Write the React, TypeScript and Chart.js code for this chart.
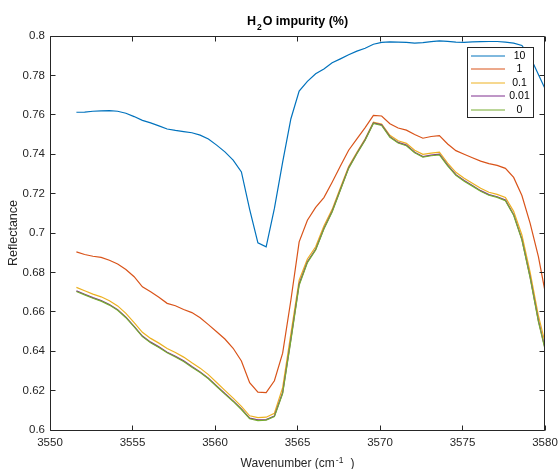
import React, { useEffect, useRef } from "react";
import { Chart, registerables } from "chart.js";

Chart.register(...registerables);

const wavenumbers = [
  3551.6, 3552.1, 3552.6, 3553.1, 3553.6, 3554.1, 3554.6, 3555.1, 3555.6, 3556.1,
  3556.6, 3557.1, 3557.6, 3558.1, 3558.6, 3559.1, 3559.6, 3560.1, 3560.6, 3561.1,
  3561.6, 3562.1, 3562.6, 3563.1, 3563.6, 3564.1, 3564.6, 3565.1, 3565.6, 3566.1,
  3566.6, 3567.1, 3567.6, 3568.1, 3568.6, 3569.1, 3569.6, 3570.1, 3570.6, 3571.1,
  3571.6, 3572.1, 3572.6, 3573.1, 3573.6, 3574.1, 3574.6, 3575.1, 3575.6, 3576.1,
  3576.6, 3577.1, 3577.6, 3578.1, 3578.6, 3579.1, 3579.6, 3580.1,
];

const impurity10 = [
  0.7613, 0.7614, 0.7618, 0.7620, 0.7621, 0.7618, 0.7608, 0.7591, 0.7572, 0.7559,
  0.7544, 0.7528, 0.7521, 0.7515, 0.7509, 0.7497, 0.7477, 0.7446, 0.7412, 0.7370,
  0.7310, 0.7120, 0.6950, 0.6930, 0.7125, 0.7360, 0.7580, 0.7720, 0.7770, 0.7808,
  0.7833, 0.7864, 0.7884, 0.7905, 0.7923, 0.7938, 0.7958, 0.7968, 0.7970, 0.7969,
  0.7968, 0.7964, 0.7966, 0.7971, 0.7975, 0.7973, 0.7969, 0.7968, 0.7970, 0.7971,
  0.7972, 0.7972, 0.7969, 0.7964, 0.7952, 0.7895, 0.7805, 0.7715,
];

const impurity1 = [
  0.6904, 0.6891, 0.6882, 0.6876, 0.6862, 0.6843, 0.6815, 0.6778, 0.6727, 0.6702,
  0.6674, 0.6643, 0.6631, 0.6612, 0.6596, 0.6570, 0.6535, 0.6499, 0.6462, 0.6415,
  0.6350, 0.6240, 0.6192, 0.6190, 0.6250, 0.6390, 0.6660, 0.6955, 0.7065, 0.7130,
  0.7180, 0.7258, 0.7340, 0.7420, 0.7478, 0.7535, 0.7597, 0.7594, 0.7555, 0.7533,
  0.7522, 0.7500, 0.7481, 0.7490, 0.7494, 0.7452, 0.7418, 0.7400, 0.7382, 0.7365,
  0.7352, 0.7343, 0.7328, 0.7282, 0.7190, 0.7049, 0.6880, 0.6660,
];

const impurity01 = [
  0.6724, 0.6707, 0.6690, 0.6676, 0.6656, 0.6630, 0.6592, 0.6545, 0.6496, 0.6465,
  0.6441, 0.6414, 0.6393, 0.6370, 0.6341, 0.6314, 0.6281, 0.6241, 0.6201, 0.6162,
  0.6120, 0.6072, 0.6063, 0.6065, 0.6085, 0.6215, 0.6490, 0.6760, 0.6868, 0.6930,
  0.7035, 0.7120, 0.7230, 0.7338, 0.7410, 0.7478, 0.7562, 0.7553, 0.7496, 0.7468,
  0.7455, 0.7420, 0.7399, 0.7405, 0.7410, 0.7355, 0.7308, 0.7278, 0.7253, 0.7227,
  0.7207, 0.7196, 0.7180, 0.7110, 0.6990, 0.6800, 0.6580, 0.6410,
];

const impurity001 = [
  0.6706, 0.6689, 0.6672, 0.6657, 0.6637, 0.6611, 0.6573, 0.6526, 0.6477, 0.6446,
  0.6422, 0.6395, 0.6374, 0.6351, 0.6322, 0.6295, 0.6263, 0.6224, 0.6185, 0.6148,
  0.6107, 0.6060, 0.6051, 0.6053, 0.6071, 0.6190, 0.6462, 0.6741, 0.6854, 0.6917,
  0.7023, 0.7110, 0.7221, 0.7331, 0.7405, 0.7474, 0.7559, 0.7549, 0.7489, 0.7460,
  0.7446, 0.7410, 0.7388, 0.7395, 0.7400, 0.7344, 0.7296, 0.7266, 0.7241, 0.7215,
  0.7195, 0.7184, 0.7167, 0.7093, 0.6968, 0.6776, 0.6555, 0.6380,
];

const impurity0 = [
  0.6703, 0.6686, 0.6669, 0.6654, 0.6634, 0.6608, 0.6570, 0.6523, 0.6474, 0.6443,
  0.6419, 0.6392, 0.6371, 0.6348, 0.6319, 0.6292, 0.6260, 0.6221, 0.6182, 0.6145,
  0.6104, 0.6057, 0.6048, 0.6050, 0.6068, 0.6185, 0.6455, 0.6735, 0.6850, 0.6914,
  0.7020, 0.7107, 0.7218, 0.7328, 0.7402, 0.7471, 0.7556, 0.7546, 0.7486, 0.7457,
  0.7443, 0.7407, 0.7385, 0.7392, 0.7397, 0.7341, 0.7293, 0.7263, 0.7238, 0.7212,
  0.7192, 0.7181, 0.7164, 0.7090, 0.6965, 0.6772, 0.6550, 0.6375,
];

const seriesLabels = ["10", "1", "0.1", "0.01", "0"];
const seriesValues = [impurity10, impurity1, impurity01, impurity001, impurity0];
const seriesColors = ["#0072BD", "#D95319", "#EDB120", "#7E2F8E", "#77AC30"];

const xTicks = [3550, 3555, 3560, 3565, 3570, 3575, 3580];
const xTickLabels = ["3550", "3555", "3560", "3565", "3570", "3575", "3580"];
const yTicks = [0.6, 0.62, 0.64, 0.66, 0.68, 0.7, 0.72, 0.74, 0.76, 0.78, 0.8];
const yTickLabels = ["0.6", "0.62", "0.64", "0.66", "0.68", "0.7", "0.72", "0.74", "0.76", "0.78", "0.8"];

const titleMain = "H";
const titleSub = "2";
const titleRest = "O impurity (%)";
const xLabelMain = "Wavenumber (cm";
const xLabelSup = "-1";
const xLabelEnd = ")";
const yLabel = "Reflectance";

const FONT = '"Liberation Sans", Arial, Helvetica, sans-serif';
const AXIS = "#262626";

const framePlugin = {
  id: "matlabFrame",
  afterDatasetsDraw(chart: any) {
    const { ctx, chartArea: a, scales } = chart;
    const xs = scales.x;
    const ys = scales.y;
    ctx.save();
    ctx.strokeStyle = AXIS;
    ctx.lineWidth = 1;
    const L = Math.floor(a.left) + 0.5;
    const R = Math.ceil(a.right) - 0.5;
    const T = Math.floor(a.top) + 0.5;
    const B = Math.floor(a.bottom) + 0.5;
    ctx.beginPath();
    ctx.rect(L, T, R - L, B - T);
    ctx.stroke();
    const tl = 5;
    ctx.beginPath();
    xTicks.forEach((v) => {
      const p = Math.floor(xs.getPixelForValue(v)) + 0.5;
      ctx.moveTo(p, B);
      ctx.lineTo(p, B - tl);
      ctx.moveTo(p, T);
      ctx.lineTo(p, T + tl);
    });
    yTicks.forEach((v) => {
      const p = Math.floor(ys.getPixelForValue(v)) + 0.5;
      ctx.moveTo(L, p);
      ctx.lineTo(L + tl, p);
      ctx.moveTo(R, p);
      ctx.lineTo(R - tl, p);
    });
    ctx.stroke();
    ctx.restore();
  },
  afterDraw(chart: any) {
    const { ctx, chartArea: a } = chart;
    ctx.save();
    ctx.fillStyle = "#000";
    ctx.textBaseline = "alphabetic";
    ctx.textAlign = "left";

    // Title
    const cx = (a.left + a.right) / 2;
    const fMain = `bold 12.5px ${FONT}`;
    const fSub = `bold 8.5px ${FONT}`;
    ctx.font = fMain;
    const wH = ctx.measureText(titleMain).width;
    const wRest = ctx.measureText(titleRest).width;
    ctx.font = fSub;
    const wSub = ctx.measureText(titleSub).width;
    const gap = 1;
    const total = wH + gap + wSub + gap + wRest;
    let x0 = cx - total / 2;
    ctx.font = fMain;
    ctx.fillText(titleMain, x0, 25);
    x0 += wH + gap;
    ctx.font = fSub;
    ctx.fillText(titleSub, x0, 29.5);
    x0 += wSub + gap;
    ctx.font = fMain;
    ctx.fillText(titleRest, x0, 25);

    // X label
    ctx.fillStyle = AXIS;
    const fl = `12px ${FONT}`;
    const fsup = `8.5px ${FONT}`;
    ctx.font = fl;
    const w1 = ctx.measureText(xLabelMain).width;
    const w3 = ctx.measureText(xLabelEnd).width;
    ctx.font = fsup;
    const w2 = ctx.measureText(xLabelSup).width;
    const endGap = 7;
    const tot2 = w1 + 1 + w2 + endGap + w3;
    let x1 = cx - tot2 / 2;
    ctx.font = fl;
    ctx.fillText(xLabelMain, x1, 467);
    x1 += w1 + 1;
    ctx.font = fsup;
    ctx.fillText(xLabelSup, x1, 463);
    x1 += w2 + endGap;
    ctx.font = fl;
    ctx.fillText(xLabelEnd, x1, 467);

    // Y label
    ctx.save();
    ctx.translate(16.5, (a.top + a.bottom) / 2);
    ctx.rotate(-Math.PI / 2);
    ctx.textAlign = "center";
    ctx.font = `12.5px ${FONT}`;
    ctx.fillText(yLabel, 0, 0);
    ctx.restore();

    // Legend
    const lx = 467.5;
    const ly = 47.5;
    const lw = 66;
    const lh = 70;
    ctx.fillStyle = "#ffffff";
    ctx.fillRect(lx, ly, lw, lh);
    ctx.strokeStyle = AXIS;
    ctx.lineWidth = 1;
    ctx.strokeRect(lx, ly, lw, lh);
    ctx.font = `10.5px ${FONT}`;
    ctx.textAlign = "center";
    ctx.textBaseline = "middle";
    seriesLabels.forEach((lab, i) => {
      const yy = Math.round(56 + i * 13.4);
      ctx.strokeStyle = seriesColors[i];
      ctx.lineWidth = 1;
      ctx.beginPath();
      ctx.moveTo(471, yy);
      ctx.lineTo(505, yy);
      ctx.stroke();
      ctx.fillStyle = "#000";
      ctx.fillText(lab, 519.5, yy + 0.5);
    });
    ctx.restore();
  },
};

export default function App() {
  const ref = useRef<HTMLCanvasElement | null>(null);
  useEffect(() => {
    if (!ref.current) return;
    const datasets = seriesValues.map((vals, i) => ({
      label: seriesLabels[i],
      data: wavenumbers.map((w, j) => ({ x: w, y: vals[j] })),
      borderColor: seriesColors[i],
      backgroundColor: seriesColors[i],
      borderWidth: 1.2,
      pointRadius: 0,
      tension: 0,
      fill: false,
      order: seriesLabels.length - i,
    }));
    const chart = new Chart(ref.current, {
      type: "line",
      data: { datasets },
      options: {
        animation: false,
        responsive: false,
        devicePixelRatio: 1,
        events: [],
        layout: { padding: { left: 0, right: 13, top: 36, bottom: 0 } },
        plugins: {
          legend: { display: false },
          title: { display: false },
          tooltip: { enabled: false },
        },
        scales: {
          x: {
            type: "linear",
            min: 3550,
            max: 3580,
            border: { display: false },
            grid: { display: false, drawTicks: false },
            afterFit: (s: any) => {
              s.height = 39;
              s.paddingLeft = 0;
              s.paddingRight = 0;
            },
            afterBuildTicks: (s: any) => {
              s.ticks = xTicks.map((v) => ({ value: v }));
            },
            ticks: {
              padding: 6,
              color: AXIS,
              font: { family: FONT, size: 11.5 },
              maxRotation: 0,
              autoSkip: false,
              callback: (_v: any, i: number) => xTickLabels[i],
            },
          },
          y: {
            type: "linear",
            min: 0.6,
            max: 0.8,
            border: { display: false },
            grid: { display: false, drawTicks: false },
            afterFit: (s: any) => {
              s.width = 50;
              s.paddingTop = 0;
              s.paddingBottom = 0;
            },
            afterBuildTicks: (s: any) => {
              s.ticks = yTicks.map((v) => ({ value: v }));
            },
            ticks: {
              padding: 5,
              color: AXIS,
              font: { family: FONT, size: 11.5 },
              autoSkip: false,
              callback: (_v: any, i: number) => yTickLabels[i],
            },
          },
        },
      },
      plugins: [framePlugin],
    } as any);
    return () => chart.destroy();
  }, []);
  return (
    <div style={{ position: "absolute", left: 0, top: 0, width: 558, height: 469, background: "#fff" }}>
      <canvas ref={ref} width={558} height={469} style={{ display: "block" }} />
    </div>
  );
}
